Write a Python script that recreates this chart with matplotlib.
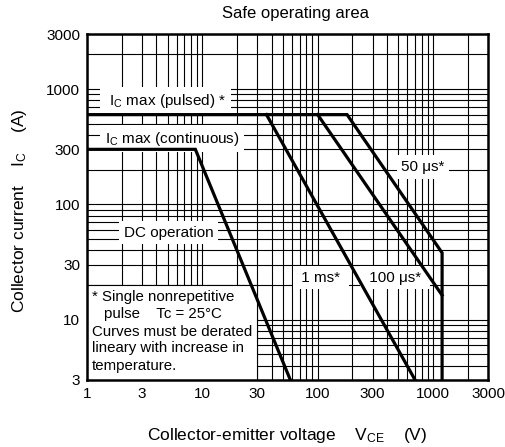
import matplotlib
matplotlib.use("Agg")
import matplotlib.pyplot as plt
from matplotlib.patches import Rectangle
from matplotlib.ticker import FixedLocator, LogLocator, NullFormatter

plt.rcParams['font.family'] = ['Liberation Sans', 'DejaVu Sans']
plt.rcParams['mathtext.fontset'] = 'custom'
plt.rcParams['mathtext.rm'] = 'Liberation Sans'
plt.rcParams['mathtext.it'] = 'Liberation Sans:italic'

# values (V, A)
vce_dc = [1, 8.7, 58]
ic_dc = [300, 300, 3]

vce_50us = [1, 180, 1200, 1200]      # pulsed max line runs into the 50 us curve
ic_50us = [600, 600, 38, 3]

vce_100us = [100, 1200]
ic_100us = [600, 16.3]

vce_1ms = [36, 700]
ic_1ms = [600, 3]

x_ticks = [1, 3, 10, 30, 100, 300, 1000, 3000]
y_ticks = [3, 10, 30, 100, 300, 1000, 3000]

note_lines = [
    "* Single nonrepetitive",
    "pulse    Tc = 25°C",
    "Curves must be derated",
    "lineary with increase in",
    "temperature.",
]

fig = plt.figure(figsize=(5.05, 4.47), dpi=100)
ax = fig.add_axes([0.1723, 0.1499, 0.794, 0.774])

ax.set_xscale('log')
ax.set_yscale('log')
ax.set_xlim(1, 3000)
ax.set_ylim(3, 3000)

ax.xaxis.set_major_locator(FixedLocator(x_ticks))
ax.yaxis.set_major_locator(FixedLocator(y_ticks))
ax.set_xticklabels([str(t) for t in x_ticks])
ax.set_yticklabels([str(t) for t in y_ticks])
ax.xaxis.set_minor_locator(LogLocator(base=10, subs=range(1, 10), numticks=20))
ax.yaxis.set_minor_locator(LogLocator(base=10, subs=range(1, 10), numticks=20))
ax.xaxis.set_minor_formatter(NullFormatter())
ax.yaxis.set_minor_formatter(NullFormatter())
ax.tick_params(which='both', length=0, labelsize=11, colors='black')
ax.tick_params(axis='x', pad=5)
ax.tick_params(axis='y', pad=5)
ax.grid(True, which='both', color='black', linewidth=0.8)

for s in ax.spines.values():
    s.set_linewidth(1.8)

lw = 2.3
ax.plot(vce_dc, ic_dc, color='black', lw=lw, solid_joinstyle='miter', zorder=4)
ax.plot(vce_50us, ic_50us, color='black', lw=lw, solid_joinstyle='miter', zorder=4)
ax.plot(vce_100us, ic_100us, color='black', lw=lw, zorder=4)
ax.plot(vce_1ms, ic_1ms, color='black', lw=lw, zorder=4)

# note panel in the lower left corner
ax.add_patch(Rectangle((1, 3), 29, 17, facecolor='white', edgecolor='black',
                       linewidth=0.8, zorder=2))
note_y = [15.8, 11.1, 7.85, 5.64, 3.98]
for i, (txt, yy) in enumerate(zip(note_lines, note_y)):
    xx = 1.40 if i == 1 else 1.1
    ax.text(xx, yy, txt, fontsize=10.8, va='center', ha='left', zorder=3)

fs = 11
box = dict(boxstyle='square,pad=0.3', facecolor='white', edgecolor='none')
ax.text(4.8, 790, r" I$_\mathrm{C}$ max (pulsed) * ", fontsize=fs, ha='center',
        va='center', bbox=box, zorder=3)
ax.text(5.46, 372, r"I$_\mathrm{C}$ max (continuous)", fontsize=fs, ha='center',
        va='center', bbox=box, zorder=3)
ax.text(5.09, 57, "DC operation", fontsize=fs, ha='center', va='center',
        bbox=box, zorder=3)
ax.text(820, 211, "50 μs*", fontsize=fs, ha='center', va='center',
        bbox=box, zorder=3)
ax.text(107, 23.1, " 1 ms* ", fontsize=fs, ha='center', va='center',
        bbox=box, zorder=3)
ax.text(469, 23.1, " 100 μs* ", fontsize=fs, ha='center', va='center',
        bbox=box, zorder=3)

ax.text(0.519, 1.058, "Safe operating area", transform=ax.transAxes,
        fontsize=12, ha='center', va='center')
ax.set_xlabel(r"Collector-emitter voltage    V$_\mathrm{CE}$    (V)", fontsize=12.5)
ax.set_ylabel(r"Collector current    I$_\mathrm{C}$    (A)", fontsize=12.5)
ax.xaxis.set_label_coords(0.5, -0.132)
ax.yaxis.set_label_coords(-0.145, 0.49)

fig.savefig("out.png", dpi=100)
